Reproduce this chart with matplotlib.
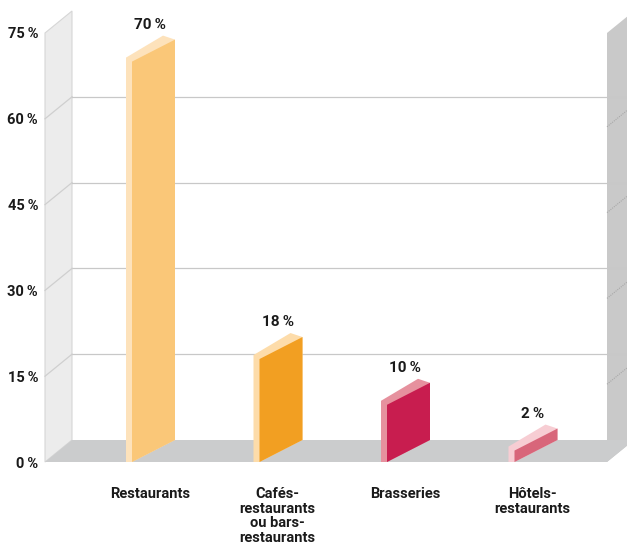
import matplotlib
matplotlib.use("Agg")
import matplotlib.pyplot as plt
from matplotlib.patches import Polygon

plt.rcParams["font.family"] = ["Roboto", "DejaVu Sans"]

# données
categories = ["Restaurants", "Cafés-\nrestaurants\nou bars-\nrestaurants", "Brasseries", "Hôtels-\nrestaurants"]
values = [70, 18, 10, 2]
y_ticks = [0, 15, 30, 45, 60, 75]
y_tick_labels = ["0\u2009%", "15\u2009%", "30\u2009%", "45\u2009%", "60\u2009%", "75\u2009%"]
face_colors = ["#fac778", "#f29f22", "#c81d4f", "#d8667a"]
light_colors = ["#fde2bb", "#fddcaa", "#e6919e", "#f7cdd3"]

W, H = 627, 547
fig = plt.figure(figsize=(W / 100, H / 100), dpi=100)

# plan avant du graphique en pixels
left_px, right_px, base_px, top_px = 45, 607, 462, 33
ax = fig.add_axes([left_px / W, (H - base_px) / H, (right_px - left_px) / W, (base_px - top_px) / H])

step_px = 127.5      # écart entre catégories
first_px = 150       # centre de la première catégorie
ax.set_xlim((left_px - first_px) / step_px, (right_px - first_px) / step_px)
ax.set_ylim(0, 75)
px_y = (base_px - top_px) / 75.0


def dx(p):
    return p / step_px


def dy(p):
    return p / px_y


DX, DY = dx(27), dy(22)   # profondeur du décor
x0, x1 = ax.get_xlim()
ymax = 75

# mur gauche, sol, mur droit
ax.add_patch(Polygon([(x0, 0), (x0, ymax), (x0 + DX, ymax + DY), (x0 + DX, DY)],
                     closed=True, fc="#ececec", ec="#d6d6d6", lw=0.8, clip_on=False, zorder=1))
ax.add_patch(Polygon([(x1, 0), (x1, ymax), (x1 + DX, ymax + DY), (x1 + DX, DY)],
                     closed=True, fc="#c9c9c9", ec="none", clip_on=False, zorder=1))

# lignes de grille sur le fond et les murs
for t in y_ticks[1:-1]:
    ax.plot([x0 + DX, x1 + DX * 2], [t + DY, t + DY], color="#c8c8c8", lw=0.9,
            clip_on=False, zorder=2)
    ax.plot([x0, x0 + DX], [t, t + DY], color="#cfcfcf", lw=0.9, clip_on=False, zorder=2)
    ax.plot([x1, x1 + DX], [t - dy(8), t + DY - dy(8)], color="#a8a8a8", lw=0.8,
            ls=(0, (1, 1)), clip_on=False, zorder=2)

ax.add_patch(Polygon([(x0, 0), (x1, 0), (x1 + DX, DY), (x0 + DX, DY)],
                     closed=True, fc="#cbcccd", ec="none", clip_on=False, zorder=3))

# barres en pseudo 3D
bar_w, bar_rise = dx(43), dy(22)
for i, (v, fc, lc) in enumerate(zip(values, face_colors, light_colors)):
    xl = i - dx(18)
    light = [(xl - dx(6), 0), (xl - dx(6), v + dy(4)), (xl + bar_w - dx(12), v + bar_rise + dy(4)),
             (xl + bar_w, v + bar_rise), (xl + bar_w, bar_rise), (xl, 0)]
    ax.add_patch(Polygon(light, closed=True, fc=lc, ec="none", zorder=4))
    face = [(xl, 0), (xl, v), (xl + bar_w, v + bar_rise), (xl + bar_w, bar_rise)]
    ax.add_patch(Polygon(face, closed=True, fc=fc, ec="none", zorder=5))
    ax.annotate(f"{v}\u2009%", (i, v), xytext=(0, 37 * 0.72), textcoords="offset points",
                ha="center", va="center", fontsize=11, fontweight="bold", color="#1a1a1a")

for s in ax.spines.values():
    s.set_visible(False)
ax.set_yticks(y_ticks, y_tick_labels)
ax.set_xticks(range(len(categories)), categories)
ax.tick_params(axis="y", length=0, pad=5, labelsize=10.5, labelcolor="#1a1a1a")
ax.tick_params(axis="x", length=0, pad=18, labelsize=10.5, labelcolor="#1a1a1a")
for lab in ax.get_yticklabels() + ax.get_xticklabels():
    lab.set_fontweight("bold")
for lab in ax.get_xticklabels():
    lab.set_linespacing(1.05)
    lab.set_multialignment("center")
ax.patch.set_visible(False)

fig.savefig("out.png", dpi=100)
